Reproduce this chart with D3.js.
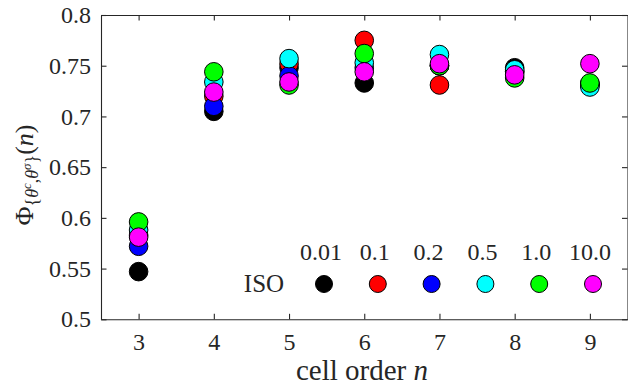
<!DOCTYPE html>
<html>
<head>
<meta charset="utf-8">
<script src="https://cdn.jsdelivr.net/npm/d3@7"></script>
<style>
  body { margin: 0; background: #fff; }
  svg text { font-family: "Liberation Serif", "Times New Roman", Times, "DejaVu Serif", serif; fill: #262626; }
</style>
</head>
<body>
<div class="content"></div>
<script>
// Data
var cellOrders = [3, 4, 5, 6, 7, 8, 9];
var thetaLabels = ["0.01", "0.1", "0.2", "0.5", "1.0", "10.0"];
var markerColors = ["#000000", "#ff0000", "#0000ff", "#00ffff", "#00ff00", "#ff00ff"];
var yTicks = [0.5, 0.55, 0.6, 0.65, 0.7, 0.75, 0.8];

var phiTheta001 = [0.547, 0.705, 0.748, 0.733, 0.750, 0.748, 0.731];
var phiTheta01  = [0.583, 0.720, 0.752, 0.775, 0.731, 0.744, 0.732];
var phiTheta02  = [0.572, 0.710, 0.740, 0.748, 0.750, 0.744, 0.732];
var phiTheta05  = [0.588, 0.734, 0.757, 0.753, 0.761, 0.746, 0.729];
var phiTheta10  = [0.596, 0.744, 0.731, 0.762, 0.750, 0.738, 0.733];
var phiTheta100 = [0.581, 0.724, 0.734, 0.744, 0.752, 0.741, 0.752];

var seriesValues = [phiTheta001, phiTheta01, phiTheta02, phiTheta05, phiTheta10, phiTheta100];

// SVG area
var svgWidth = 628;
var svgHeight = 385;

var margin = { top: 15, right: 0.5, bottom: 65.7, left: 101 };
var width = svgWidth - margin.left - margin.right;
var height = svgHeight - margin.top - margin.bottom;

var svg = d3.select(".content")
  .append("svg")
  .attr("width", svgWidth)
  .attr("height", svgHeight);

var chartGroup = svg.append("g")
  .attr("transform", `translate(${margin.left}, ${margin.top})`);

// scales
var xLinearScale = d3.scaleLinear().domain([2.5, 9.5]).range([0, width]);
var yLinearScale = d3.scaleLinear().domain([0.5, 0.8]).range([height, 0]);

var tickLen = 5.5;
var axisColor = "#262626";

// axes (ticks pointing inward, MATLAB style box)
var bottomAxis = d3.axisBottom(xLinearScale).tickValues(cellOrders)
  .tickFormat(d3.format("d"))
  .tickSizeInner(-tickLen).tickSizeOuter(0).tickPadding(14);
var leftAxis = d3.axisLeft(yLinearScale).tickValues(yTicks)
  .tickFormat(d => String(+d.toFixed(2)))
  .tickSizeInner(-tickLen).tickSizeOuter(0).tickPadding(10);
var topAxis = d3.axisTop(xLinearScale).tickValues(cellOrders)
  .tickSizeInner(-tickLen).tickSizeOuter(0).tickFormat("");
var rightAxis = d3.axisRight(yLinearScale).tickValues(yTicks)
  .tickSizeInner(-tickLen).tickSizeOuter(0).tickFormat("");

var xAxis = chartGroup.append("g")
  .attr("transform", `translate(0, ${height})`)
  .call(bottomAxis);
var yAxis = chartGroup.append("g").call(leftAxis);
chartGroup.append("g").call(topAxis);
chartGroup.append("g").attr("transform", `translate(${width}, 0)`).call(rightAxis);

chartGroup.selectAll(".domain, .tick line")
  .attr("stroke", axisColor)
  .attr("stroke-width", 1.1);
chartGroup.selectAll(".tick text")
  .attr("font-size", 24)
  .attr("fill", axisColor);

// data markers: one group per theta value, drawn in order so magenta ends on top
seriesValues.forEach(function(values, i) {
  chartGroup.append("g")
    .selectAll("circle")
    .data(values)
    .enter()
    .append("circle")
    .attr("cx", (d, j) => xLinearScale(cellOrders[j]))
    .attr("cy", d => yLinearScale(d))
    .attr("r", 9.3)
    .attr("fill", markerColors[i])
    .attr("stroke", "#000")
    .attr("stroke-width", 1);
});

// legend
var legendGroup = svg.append("g");
legendGroup.append("text")
  .attr("x", 264)
  .attr("y", 292)
  .attr("text-anchor", "middle")
  .attr("font-size", 25)
  .text("ISO");

thetaLabels.forEach(function(label, i) {
  var cx = 324 + i * 53.8;
  legendGroup.append("circle")
    .attr("cx", cx)
    .attr("cy", 284)
    .attr("r", 8.5)
    .attr("fill", markerColors[i])
    .attr("stroke", "#000")
    .attr("stroke-width", 1);
  legendGroup.append("text")
    .attr("x", cx - 3)
    .attr("y", 260)
    .attr("text-anchor", "middle")
    .attr("font-size", 24)
    .text(label);
});

// x axis label
var xLabel = svg.append("text")
  .attr("x", 362)
  .attr("y", 380)
  .attr("text-anchor", "middle")
  .attr("font-size", 29);
xLabel.append("tspan").text("cell order ");
xLabel.append("tspan").attr("font-style", "italic").text("n");

// y axis label: Phi_{theta^c, theta^sigma}(n)
var yLabel = svg.append("text")
  .attr("transform", "translate(33, 175) rotate(-90)")
  .attr("text-anchor", "middle")
  .attr("font-size", 26);
yLabel.append("tspan").text("Φ");
yLabel.append("tspan").attr("font-size", 18).attr("dy", 5).text("{");
yLabel.append("tspan").attr("font-size", 18).attr("font-style", "italic").text("θ");
yLabel.append("tspan").attr("font-size", 13).attr("font-style", "italic").attr("dy", -7).text("c");
yLabel.append("tspan").attr("font-size", 18).attr("dy", 7).text(",");
yLabel.append("tspan").attr("font-size", 18).attr("font-style", "italic").text("θ");
yLabel.append("tspan").attr("font-size", 13).attr("font-style", "italic").attr("dy", -7).text("σ");
yLabel.append("tspan").attr("font-size", 18).attr("dy", 7).text("}");
yLabel.append("tspan").attr("dy", -5).text("(");
yLabel.append("tspan").attr("font-style", "italic").text("n");
yLabel.append("tspan").text(")");
</script>
</body>
</html>
